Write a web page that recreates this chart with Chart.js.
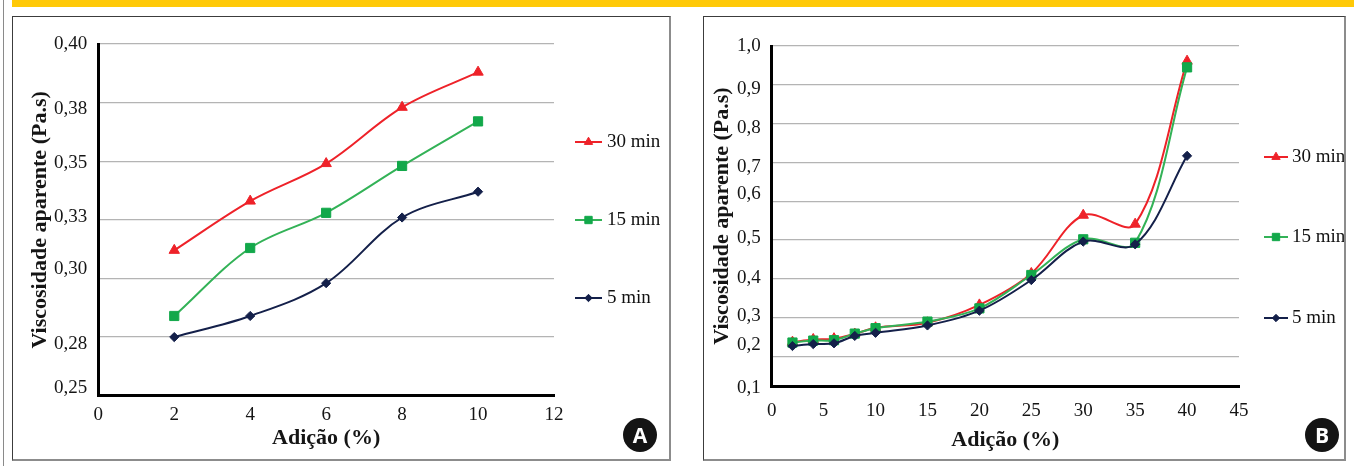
<!DOCTYPE html>
<html lang="pt">
<head>
<meta charset="utf-8">
<title>Viscosidade aparente x Adição</title>
<script src="https://cdn.jsdelivr.net/npm/chart.js@4.4.1/dist/chart.umd.min.js"></script>
<style>
  html, body { margin: 0; padding: 0; background: #fff; width: 1354px; height: 466px; overflow: hidden; position: relative; }
  .topbar { position: absolute; left: 12px; top: 0; width: 1342px; height: 7px; background: #FFC907; }
  .edge { position: absolute; left: 3px; top: 0; width: 1px; height: 466px; background: #8a8a8a; }
  .panel { position: absolute; top: 16px; height: 445px; box-sizing: border-box; border: 1px solid #3c3c3c;
           border-right: 2px solid #8c8c8c; border-bottom: 2px solid #8c8c8c; background: #fff; }
  #pA { left: 12px; width: 659px; }
  #pB { left: 703px; width: 643px; }
  .panel canvas { position: absolute; left: 0; top: 0; }
  .badge { position: absolute; width: 34px; height: 34px; border-radius: 50%; background: #141414; color: #fff;
           font: bold 21px "Open Sans", "DejaVu Sans", sans-serif; text-align: center; line-height: 34px; }
</style>
</head>
<body>
<div class="edge"></div>
<div class="topbar"></div>
<div class="panel" id="pA"><canvas id="chartA" width="656" height="442"></canvas></div>
<div class="panel" id="pB"><canvas id="chartB" width="640" height="442"></canvas></div>
<div class="badge" style="left:623px;top:418px;">A</div>
<div class="badge" style="left:1305px;top:418px;">B</div>

<script>
// ---- Chart A: additions 2–10 % ----
const adicaoA = [2, 4, 6, 8, 10];
const visc30A = [0.312, 0.333, 0.349, 0.373, 0.388];
const visc15A = [0.284, 0.313, 0.328, 0.348, 0.367];
const visc5A  = [0.275, 0.284, 0.298, 0.326, 0.337];
const xTicksA = [0, 2, 4, 6, 8, 10, 12];
const yLabelsA = ['0,25', '0,28', '0,30', '0,33', '0,35', '0,38', '0,40'];

// ---- Chart B: additions 2–40 % ----
const adicaoB = [2, 4, 6, 8, 10, 15, 20, 25, 30, 35, 40];
const visc30B = [0.237, 0.244, 0.246, 0.258, 0.274, 0.287, 0.333, 0.414, 0.564, 0.541, 0.961];
const visc15B = [0.236, 0.241, 0.242, 0.259, 0.273, 0.290, 0.324, 0.410, 0.502, 0.493, 0.945];
const visc5B  = [0.227, 0.232, 0.234, 0.253, 0.261, 0.280, 0.318, 0.397, 0.496, 0.489, 0.717];
const xTicksB = [0, 5, 10, 15, 20, 25, 30, 35, 40, 45];
const yLabelsB = ['0,1', '0,2', '0,3', '0,4', '0,5', '0,6', '0,7', '0,8', '0,9', '1,0'];

const seriesNames = ['30 min', '15 min', '5 min'];

const SERIF = '"Liberation Serif", "Times New Roman", serif';
Chart.defaults.font.family = SERIF;
Chart.defaults.color = '#151515';

const GRID = '#b4b4b4';

// Series appearance
const looks = [
  { line: '#EE2229', fill: '#EE2229', style: 'triangle', radius: 6, order: 3 },
  { line: '#33B257', fill: '#12A84A', style: 'rect',     radius: 6.5, order: 2 },
  { line: '#14204A', fill: '#14204A', style: 'rectRot',  radius: 4.6, order: 1 }
];

function buildDatasets(xs, seriesList) {
  return seriesList.map((ys, i) => ({
    label: seriesNames[i],
    data: xs.map((x, j) => ({ x: x, y: ys[j] })),
    borderColor: looks[i].line,
    borderWidth: 2,
    pointStyle: looks[i].style,
    pointRadius: looks[i].radius,
    pointBackgroundColor: looks[i].fill,
    pointBorderColor: looks[i].fill,
    pointBorderWidth: 1,
    tension: 0.35,
    order: looks[i].order,
    fill: false
  }));
}

// Legend drawn at the right of the plot: short line with marker, then the label
const sideLegend = {
  id: 'sideLegend',
  afterDraw(chart, args, opts) {
    const ctx = chart.ctx;
    const x0 = chart.chartArea.right + opts.dx;
    ctx.save();
    chart.data.datasets.forEach((ds, i) => {
      const y = opts.rows[i];
      ctx.strokeStyle = ds.borderColor;
      ctx.lineWidth = 2;
      ctx.beginPath();
      ctx.moveTo(x0, y);
      ctx.lineTo(x0 + opts.lineLen, y);
      ctx.stroke();
      ctx.fillStyle = ds.pointBackgroundColor;
      ctx.strokeStyle = ds.pointBorderColor;
      ctx.lineWidth = 1;
      Chart.helpers.drawPoint(ctx, { pointStyle: ds.pointStyle, radius: ds.pointRadius * 0.8, rotation: 0, borderWidth: 1 },
        x0 + opts.lineLen / 2, y);
      ctx.fillStyle = '#111';
      ctx.font = opts.fontSize + 'px ' + SERIF;
      ctx.textAlign = 'left';
      ctx.textBaseline = 'middle';
      ctx.fillText(ds.label, x0 + opts.lineLen + opts.gap, y);
    });
    ctx.restore();
  }
};

function makeChart(canvasId, p) {
  return new Chart(document.getElementById(canvasId), {
    type: 'line',
    data: { datasets: buildDatasets(p.xs, p.series) },
    plugins: [sideLegend],
    options: {
      responsive: false,
      animation: false,
      devicePixelRatio: 1,
      layout: { padding: p.padding },
      plugins: {
        legend: { display: false },
        tooltip: { enabled: false },
        sideLegend: p.legend
      },
      scales: {
        // outer left axis: tick labels and title only
        yl: {
          type: 'linear', position: 'left', weight: 1,
          min: p.yMin, max: p.yMax,
          grid: { display: false, drawTicks: false },
          border: { display: false },
          ticks: { autoSkip: false, padding: 11, font: { size: 19 }, color: '#151515',
                   callback: (v, i) => p.yLabels[i] },
          afterBuildTicks: (axis) => { axis.ticks = p.yLabelAt.map(v => ({ value: v })); },
          afterFit: (axis) => { axis.width = p.ylWidth; },
          title: { display: true, text: 'Viscosidade aparente (Pa.s)', color: '#151515',
                   font: { size: 22, weight: 'bold' }, padding: { top: 4, bottom: 0 } }
        },
        // inner axis: horizontal grid lines and the thick axis line
        y: {
          type: 'linear', position: 'left', weight: 0,
          min: p.yMin, max: p.yMax,
          grid: { color: GRID, lineWidth: 1.3, drawTicks: false },
          border: { display: true, color: '#000', width: 3 },
          ticks: { display: false },
          afterBuildTicks: (axis) => { axis.ticks = p.yGrid.map(v => ({ value: v })); },
          afterFit: (axis) => { axis.width = 0; }
        },
        x: {
          type: 'linear', position: 'bottom',
          min: p.xTicks[0], max: p.xTicks[p.xTicks.length - 1],
          grid: { display: false, drawTicks: false },
          border: { display: true, color: '#000', width: 3 },
          ticks: { autoSkip: false, maxRotation: 0, padding: p.xTickPad, font: { size: 19 }, color: '#151515',
                   callback: (v) => String(v) },
          afterBuildTicks: (axis) => { axis.ticks = p.xTicks.map(v => ({ value: v })); },
          afterFit: (axis) => { axis.height = p.xHeight; },
          title: { display: true, text: 'Adição (%)', color: '#151515',
                   font: { size: 22, weight: 'bold' }, padding: { top: 0, bottom: 4 } }
        }
      }
    }
  });
}

makeChart('chartA', {
  xs: adicaoA,
  series: [visc30A, visc15A, visc5A],
  xTicks: xTicksA,
  yMin: 0.25, yMax: 0.40,
  yGrid: [0.275, 0.30, 0.325, 0.35, 0.375, 0.40],
  yLabels: yLabelsA,
  yLabelAt: [0.2532, 0.2719, 0.3040, 0.3263, 0.3491, 0.3722, 0.40],
  padding: { left: 9.8, top: 27, right: 115, bottom: 3.8 },
  ylWidth: 75.5,
  xHeight: 59.5,
  xTickPad: 8,
  legend: { dx: 21, rows: [125, 203, 281], lineLen: 27, gap: 5, fontSize: 19 }
});

makeChart('chartB', {
  xs: adicaoB,
  series: [visc30B, visc15B, visc5B],
  xTicks: xTicksB,
  yMin: 0.124, yMax: 1.0,
  yGrid: [0.2, 0.3, 0.4, 0.5, 0.6, 0.7, 0.8, 0.9, 1.0],
  yLabels: yLabelsB,
  yLabelAt: [0.118, 0.2295, 0.3042, 0.4014, 0.5044, 0.6186, 0.6889, 0.7879, 0.8884, 1.0],
  padding: { left: 0.8, top: 29, right: 105, bottom: 1.8 },
  ylWidth: 66.9,
  xHeight: 71.2,
  xTickPad: 14,
  legend: { dx: 25, rows: [140, 220, 301], lineLen: 24, gap: 4, fontSize: 19 }
});
</script>
</body>
</html>
